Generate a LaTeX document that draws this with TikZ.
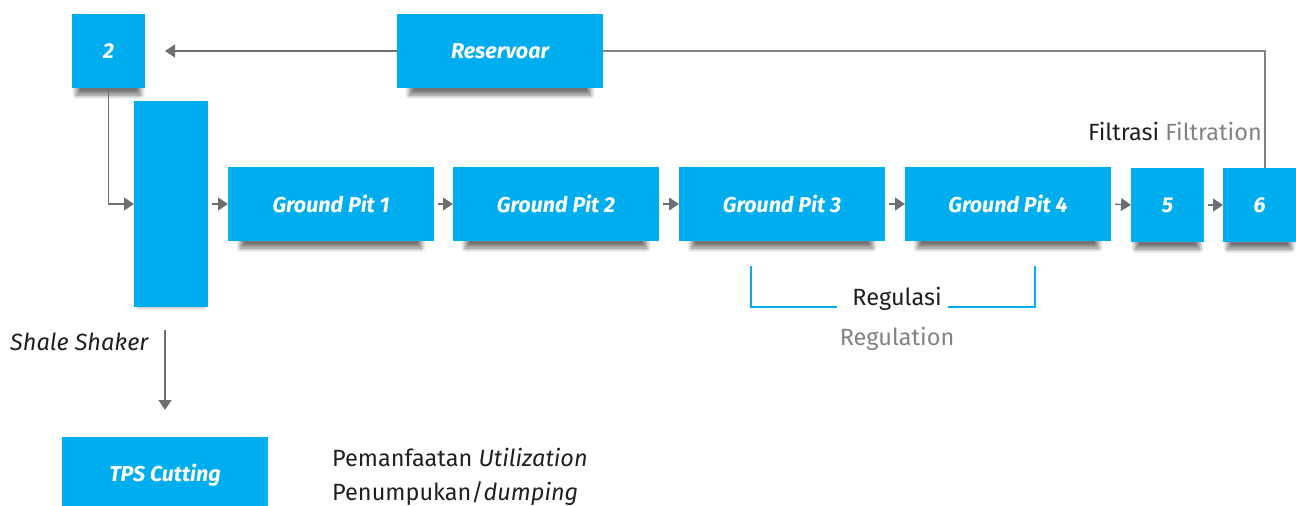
\documentclass[tikz,border=0pt]{standalone}
\usepackage{fontspec}
\setmainfont{Fira Sans}
\newfontfamily\boxfont{Fira Sans}
\newfontfamily\txtfont{Fira Sans}
\usetikzlibrary{shadows.blur,arrows.meta}
\definecolor{cyanbox}{HTML}{00AEEF}
\definecolor{arrgray}{HTML}{6D6E71}
\definecolor{linegray}{HTML}{808285}
\definecolor{darktxt}{HTML}{231F20}
\definecolor{graytxt}{HTML}{808285}
\tikzset{
  box/.style={fill=cyanbox, text=white, inner sep=0pt, outer sep=0pt,
    font=\boxfont\bfseries\itshape\fontsize{21.5}{24}\selectfont,
    blur shadow={shadow xshift=0pt, shadow yshift=-13pt, shadow opacity=55, shadow blur steps=12, shadow blur radius=5pt, shadow scale=0.88}},
  wide/.style={box, minimum width=206pt, minimum height=74pt},
  small/.style={box, minimum width=73pt, minimum height=74pt},
  arr/.style={draw=arrgray, line width=1.3pt, -{Triangle[length=10pt,width=13pt]}},
  plain/.style={draw=linegray, line width=1.3pt},
  lbl/.style={inner sep=0pt, font=\txtfont\fontsize{23.5}{28}\selectfont, text=darktxt},
}
\begin{document}
\begin{tikzpicture}[x=1pt,y=-1pt]
\useasboundingbox (0,0) rectangle (1296,506);
% boxes
\node[small] (b2) at (108.5,51) {2};
\node[wide] (res) at (500,51) {Reservoar};
\node[box, minimum width=74pt, minimum height=206pt] (shaker) at (171,204) {};
\node[wide] (gp1) at (331,204) {Ground Pit 1};
\node[wide] (gp2) at (556,204) {Ground Pit 2};
\node[wide] (gp3) at (782,204) {Ground Pit 3};
\node[wide] (gp4) at (1008,204) {Ground Pit 4};
\node[small] (b5) at (1167.5,205) {5};
\node[small] (b6) at (1259.5,205) {6};
\node[wide, minimum height=76pt] (tps) at (165,475) {TPS Cutting};
% connectors
\draw[arr] (b2.south) |- (shaker.west);
\draw[arr, shorten <=4pt] (shaker.east |- gp1.west) -- (gp1.west);
\draw[arr, shorten <=4pt] (gp1.east) -- (gp2.west);
\draw[arr, shorten <=4pt] (gp2.east) -- (gp3.west);
\draw[arr, shorten <=4pt] (gp3.east) -- (gp4.west);
\draw[arr, shorten <=4pt] (gp4.east) -- (b5.west);
\draw[arr, shorten <=4pt] (b5.east) -- (b6.west);
\draw[plain] ([xshift=5.5pt]b6.north) |- (res.east);
\draw[arr, shorten >=20pt] (res.west) -- (b2.east);
\coordinate (shtop) at (165,330);
\draw[arr, shorten >=27pt] (shtop) -- (tps.north);
% regulation bracket
\coordinate (brA) at (751,266);
\coordinate (brB) at (837,307);
\coordinate (brC) at (948,307);
\coordinate (brD) at (1035,266);
\draw[cyanbox, line width=1.4pt] (brA) |- (brB);
\draw[cyanbox, line width=1.4pt] (brC) -| (brD);
% texts
\node[lbl, anchor=base east] (filt) at (1262,140) {Filtrasi \textcolor{graytxt}{Filtration}};
\node[lbl] (reg) at (897,299) {Regulasi};
\node[lbl, text=graytxt] (regen) at (897,339) {Regulation};
\node[lbl, anchor=west] (shale) at (10,342) {\itshape Shale Shaker};
\node[lbl, anchor=west] (util) at (332,457) {Pemanfaatan \itshape Utilization};
\node[lbl, anchor=west] (dump) at (332,494) {Penumpukan/\itshape dumping};
\end{tikzpicture}
\end{document}
